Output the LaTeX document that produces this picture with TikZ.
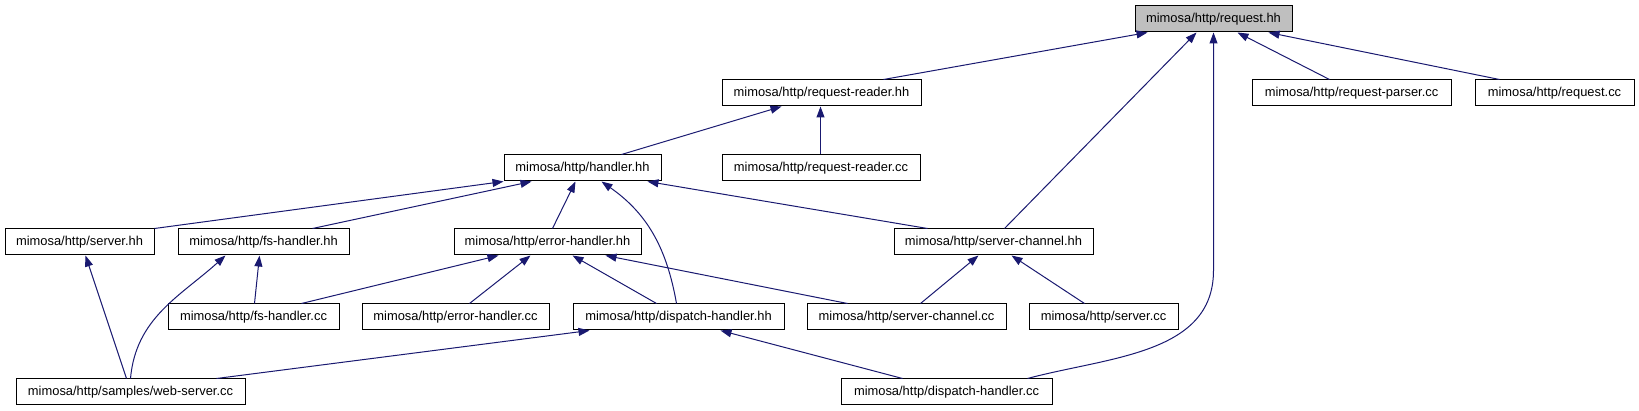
\documentclass[tikz,border=0pt]{standalone}
\usepackage{fontspec}
\setmainfont{Liberation Sans}
\usepackage{tikz}
\usetikzlibrary{arrows.meta}
\definecolor{ink}{HTML}{000000}
\definecolor{edgeblue}{HTML}{191970}
\definecolor{rootgray}{HTML}{BFBFBF}
\tikzset{
  font=\fontsize{12.9}{14}\selectfont,
  >={Triangle[length=11pt,width=8pt]},
  file/.style={
    draw=ink, line width=1pt, fill=white, text=ink,
    inner sep=0pt, minimum height=26pt
  },
  rootfile/.style={file, fill=rootgray},
  dep/.style={<-, line width=1pt, draw=edgeblue}
}

\begin{document}
\begin{tikzpicture}[x=1pt,y=1pt]
  \useasboundingbox (0,0) rectangle (1639,-411);

  % top
  \node[rootfile, minimum width=157pt] (request) at (1213.5,-19) {mimosa/http/request.hh};

  % second row
  \node[file, minimum width=199pt] (reqreader) at (821.5,-93)  {mimosa/http/request-reader.hh};
  \node[file, minimum width=199pt] (reqparser) at (1351.5,-93) {mimosa/http/request-parser.cc};
  \node[file, minimum width=159pt] (requestcc) at (1554.5,-93) {mimosa/http/request.cc};

  % third row
  \node[file, minimum width=157pt] (handler)     at (582.5,-168) {mimosa/http/handler.hh};
  \node[file, minimum width=198pt] (reqreadercc) at (821,-168)   {mimosa/http/request-reader.cc};

  % fourth row
  \node[file, minimum width=149pt] (serverhh) at (79.5,-242)  {mimosa/http/server.hh};
  \node[file, minimum width=171pt] (fshh)     at (263.5,-242) {mimosa/http/fs-handler.hh};
  \node[file, minimum width=187pt] (errhh)    at (547.5,-242) {mimosa/http/error-handler.hh};
  \node[file, minimum width=199pt] (schh)     at (993.5,-242) {mimosa/http/server-channel.hh};

  % fifth row
  \node[file, minimum width=171pt] (fscc)     at (253.5,-317)  {mimosa/http/fs-handler.cc};
  \node[file, minimum width=187pt] (errcc)    at (455.5,-317)  {mimosa/http/error-handler.cc};
  \node[file, minimum width=211pt] (disphh)   at (678.5,-317)  {mimosa/http/dispatch-handler.hh};
  \node[file, minimum width=199pt] (sccc)     at (906.5,-317)  {mimosa/http/server-channel.cc};
  \node[file, minimum width=149pt] (servercc) at (1103.5,-317) {mimosa/http/server.cc};

  % bottom row
  \node[file, minimum width=229pt] (webserver) at (130.5,-392) {mimosa/http/samples/web-server.cc};
  \node[file, minimum width=211pt] (dispcc)    at (946.5,-392) {mimosa/http/dispatch-handler.cc};

  % into request.hh
  \draw[dep] ([xshift=13pt]request.south west)  -- ([xshift=162pt]reqreader.north west);
  \draw[dep] ([xshift=62pt]request.south west)  -- ([xshift=111pt]schh.north west);
  \draw[dep] ([xshift=79pt]request.south west)  -- ++(0,-238)
     to[out=-90,in=15] ([xshift=187pt]dispcc.north west);
  \draw[dep] ([xshift=103pt]request.south west) -- ([xshift=78pt]reqparser.north west);
  \draw[dep] ([xshift=134pt]request.south west) -- ([xshift=25pt]requestcc.north west);

  % into request-reader.hh
  \draw[dep] ([xshift=60pt]reqreader.south west) -- ([xshift=118pt]handler.north west);
  \draw[dep] ([xshift=99pt]reqreader.south west) -- ([xshift=99pt]reqreadercc.north west);

  % into handler.hh
  \draw[dep] ([xshift=0pt]handler.south west)   -- ([xshift=150pt]serverhh.north west);
  \draw[dep] ([xshift=28pt]handler.south west)  -- ([xshift=135pt]fshh.north west);
  \draw[dep] ([xshift=72pt]handler.south west)  -- ([xshift=99pt]errhh.north west);
  \draw[dep] ([xshift=98pt]handler.south west)
     to[out=-35,in=100] ([xshift=104pt]disphh.north west);
  \draw[dep] ([xshift=144pt]handler.south west) -- ([xshift=34pt]schh.north west);

  % into server.hh / fs-handler.hh
  \draw[dep] ([xshift=81pt]serverhh.south west) -- ([xshift=111pt]webserver.north west);
  \draw[dep] ([xshift=48pt]fshh.south west)
     to[out=-138,in=85] ([xshift=115pt]webserver.north west);
  \draw[dep] ([xshift=82pt]fshh.south west) -- ([xshift=87pt]fscc.north west);

  % into error-handler.hh
  \draw[dep] ([xshift=45pt]errhh.south west)  -- ([xshift=134pt]fscc.north west);
  \draw[dep] ([xshift=77pt]errhh.south west)  -- ([xshift=108pt]errcc.north west);
  \draw[dep] ([xshift=119pt]errhh.south west) -- ([xshift=84pt]disphh.north west);
  \draw[dep] ([xshift=152pt]errhh.south west) -- ([xshift=41pt]sccc.north west);

  % into server-channel.hh
  \draw[dep] ([xshift=85pt]schh.south west)  -- ([xshift=114pt]sccc.north west);
  \draw[dep] ([xshift=118pt]schh.south west) -- ([xshift=56pt]servercc.north west);

  % into dispatch-handler.hh
  \draw[dep] ([xshift=17pt]disphh.south west)  -- ([xshift=201pt]webserver.north west);
  \draw[dep] ([xshift=148pt]disphh.south west) -- ([xshift=62pt]dispcc.north west);
\end{tikzpicture}
\end{document}
